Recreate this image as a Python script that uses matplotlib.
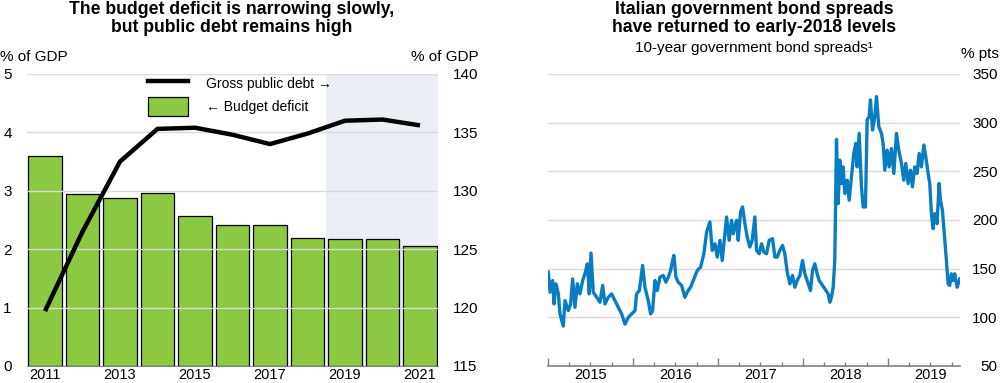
import matplotlib
matplotlib.use("Agg")
import matplotlib.pyplot as plt
from matplotlib.lines import Line2D
from matplotlib.patches import Patch
from matplotlib.ticker import FixedLocator, NullFormatter
import matplotlib.transforms as mtransforms

plt.rcParams['font.family'] = ['Liberation Sans', 'DejaVu Sans']

# ---------------- data: left panel ----------------
years = [2011, 2012, 2013, 2014, 2015, 2016, 2017, 2018, 2019, 2020, 2021]
budget_deficit = [3.6, 2.95, 2.87, 2.96, 2.56, 2.41, 2.42, 2.19, 2.17, 2.17, 2.05]
gross_debt = [119.7, 126.5, 132.5, 135.3, 135.4, 134.8, 134.0, 134.9, 136.0, 136.1, 135.6]
left_xticks = [2011, 2013, 2015, 2017, 2019, 2021]
projection_start = 2018.5

# ---------------- data: right panel ----------------
spread_dates = [
    2015.004, 2015.024, 2015.055, 2015.071, 2015.094, 2015.122, 2015.141, 2015.180, 2015.200, 2015.239,
    2015.267, 2015.290, 2015.318, 2015.345, 2015.376, 2015.408, 2015.435, 2015.463, 2015.486, 2015.506,
    2015.533, 2015.573, 2015.612, 2015.643, 2015.671, 2015.710, 2015.749, 2015.788, 2015.827, 2015.867,
    2015.906, 2015.945, 2015.984, 2016.024, 2016.043, 2016.075, 2016.114, 2016.141, 2016.180, 2016.208,
    2016.231, 2016.259, 2016.286, 2016.318, 2016.357, 2016.388, 2016.416, 2016.443, 2016.467, 2016.482,
    2016.506, 2016.533, 2016.573, 2016.612, 2016.639, 2016.678, 2016.718, 2016.757, 2016.796, 2016.835,
    2016.867, 2016.906, 2016.933, 2016.965, 2016.992, 2017.024, 2017.051, 2017.082, 2017.102, 2017.133,
    2017.161, 2017.180, 2017.220, 2017.239, 2017.267, 2017.290, 2017.318, 2017.345, 2017.376, 2017.404,
    2017.435, 2017.455, 2017.486, 2017.514, 2017.541, 2017.573, 2017.604, 2017.643, 2017.671, 2017.698,
    2017.729, 2017.761, 2017.788, 2017.816, 2017.847, 2017.878, 2017.906, 2017.933, 2017.965, 2017.996,
    2018.024, 2018.051, 2018.090, 2018.114, 2018.141, 2018.169, 2018.192, 2018.220, 2018.259, 2018.298,
    2018.318, 2018.337, 2018.357, 2018.376, 2018.396, 2018.416, 2018.435, 2018.455, 2018.475, 2018.494,
    2018.522, 2018.545, 2018.573, 2018.600, 2018.624, 2018.639, 2018.663, 2018.690, 2018.710, 2018.737,
    2018.757, 2018.780, 2018.796, 2018.820, 2018.847, 2018.867, 2018.894, 2018.925, 2018.945, 2018.965,
    2018.992, 2019.016, 2019.043, 2019.071, 2019.102, 2019.129, 2019.161, 2019.188, 2019.212, 2019.239,
    2019.267, 2019.290, 2019.318, 2019.345, 2019.369, 2019.396, 2019.424, 2019.447, 2019.475, 2019.494,
    2019.514, 2019.533, 2019.553, 2019.580, 2019.604, 2019.620, 2019.643, 2019.671, 2019.690, 2019.710,
    2019.729, 2019.749, 2019.769, 2019.788, 2019.816, 2019.847,
]
spread_values = [
    146.4, 125.8, 137.8, 113.8, 134.4, 124.1, 103.5, 91.0, 117.2, 106.9,
    113.8, 139.5, 110.3, 134.4, 124.1, 137.8, 144.7, 155.0, 124.1, 166.0,
    125.8, 120.6, 115.5, 132.7, 113.8, 120.6, 124.1, 117.2, 110.3, 103.5,
    93.0, 100.0, 103.5, 106.9, 124.1, 127.5, 153.3, 131.0, 117.2, 103.5,
    106.9, 137.8, 127.5, 141.3, 143.0, 136.1, 141.3, 148.1, 158.4, 163.6,
    141.3, 136.1, 132.7, 120.6, 125.8, 130.9, 139.5, 148.1, 151.6, 165.3,
    187.6, 198.0, 168.7, 175.6, 161.9, 179.1, 158.4, 185.9, 203.1, 179.1,
    199.7, 185.9, 199.7, 179.1, 208.3, 213.4, 196.2, 182.5, 172.2, 179.1,
    203.1, 168.7, 165.3, 175.6, 167.0, 165.3, 179.1, 180.8, 161.9, 161.9,
    168.7, 173.9, 165.3, 146.4, 134.4, 143.0, 130.9, 137.8, 143.0, 158.4,
    144.7, 137.8, 127.5, 148.1, 155.0, 144.7, 137.8, 134.4, 129.2, 124.1,
    115.5, 120.6, 130.9, 158.4, 282.8, 216.8, 261.5, 237.5, 254.6, 227.2,
    240.9, 220.3, 244.3, 268.4, 278.7, 254.6, 289.0, 234.0, 213.4, 213.4,
    302.7, 306.2, 323.4, 292.4, 306.2, 326.8, 295.9, 289.0, 278.7, 251.2,
    271.8, 254.6, 273.5, 247.8, 289.0, 271.8, 258.1, 240.9, 258.1, 237.5,
    251.2, 234.0, 254.6, 247.8, 268.4, 254.6, 277.0, 265.0, 247.8, 237.5,
    206.5, 191.1, 206.5, 196.2, 237.5, 220.3, 210.0, 179.1, 158.4, 134.4,
    132.7, 144.7, 137.8, 144.7, 130.9, 139.5,
]
right_year_labels = [2015, 2016, 2017, 2018, 2019]

# ---------------- styling ----------------
GREEN = '#8CC841'
BLUE = '#0A7CC1'
GRID = '#D9D9D9'
SHADE = '#ECEEF6'
SPINE = '#808080'
FS = 11
XFS = 10.5

fig = plt.figure(figsize=(10, 3.83), dpi=100)

# ================= LEFT PANEL =================
axL = fig.add_axes([0.027, 0.0444, 0.411, 0.7624])
axL.set_xlim(2010.52, 2021.48)
axL.set_ylim(0, 5)
axL.axvspan(projection_start, 2021.48, color=SHADE, zorder=0, lw=0)
axL.bar(years, budget_deficit, width=0.9, color=GREEN, edgecolor='black',
        linewidth=0.9, zorder=2)
axL.set_yticks([0, 1, 2, 3, 4, 5])
for v in [1, 2, 3, 4, 5]:
    axL.axhline(v, color=GRID, lw=1, zorder=3)
axL.set_xticks(left_xticks)
axL.set_xticklabels([str(y) for y in left_xticks])
axL.tick_params(axis='y', length=0, labelsize=FS, pad=11)
axL.tick_params(axis='x', length=0, labelsize=XFS, pad=1.5)
for s in ['top', 'right', 'left']:
    axL.spines[s].set_visible(False)
axL.spines['bottom'].set_color(SPINE)
axL.spines['bottom'].set_zorder(5)
axL.patch.set_visible(False)

axL2 = axL.twinx()
axL2.set_ylim(115, 140)
axL2.plot(years, gross_debt, color='black', lw=3.2, zorder=4, solid_capstyle='butt')
axL2.set_yticks([115, 120, 125, 130, 135, 140])
axL2.tick_params(axis='y', length=0, labelsize=FS, pad=11)
for s in ['top', 'right', 'left', 'bottom']:
    axL2.spines[s].set_visible(False)

handles = [Line2D([0], [0], color='black', lw=3.2),
           Patch(facecolor=GREEN, edgecolor='black', linewidth=0.9)]
leg = axL2.legend(handles, ['Gross public debt \u2192', '\u2190 Budget deficit'],
                  loc='upper left', bbox_to_anchor=(0.28, 1.02), frameon=False,
                  fontsize=10, handlelength=2.9, handleheight=1.8,
                  handletextpad=1.3, labelspacing=0.25, borderaxespad=0)

fig.text(0.232, 0.998, 'The budget deficit is narrowing slowly,\nbut public debt remains high',
         ha='center', va='top', fontsize=12.7, fontweight='bold', linespacing=1.08)
fig.text(0.0, 1 - 57 / 383, '% of GDP', ha='left', va='center', fontsize=FS)
fig.text(0.479, 1 - 57 / 383, '% of GDP', ha='right', va='center', fontsize=FS)

# ================= RIGHT PANEL =================
axR = fig.add_axes([0.548, 0.0444, 0.412, 0.7624])
axR.set_xlim(2015.0, 2019.85)
axR.set_ylim(50, 350)
for v in [100, 150, 200, 250, 300, 350]:
    axR.axhline(v, color=GRID, lw=1, zorder=1)
axR.plot(spread_dates, spread_values, color=BLUE, lw=2.4, zorder=3,
         solid_joinstyle='round')
axR.yaxis.tick_right()
axR.set_yticks([50, 100, 150, 200, 250, 300, 350])
axR.tick_params(axis='y', length=0, labelsize=FS, pad=27)
for lab in axR.get_yticklabels():
    lab.set_horizontalalignment('right')
axR.xaxis.set_major_locator(FixedLocator([2015, 2016, 2017, 2018, 2019]))
axR.xaxis.set_minor_locator(FixedLocator([y + q for y in range(2015, 2020)
                                          for q in (0.25, 0.5, 0.75)
                                          if y + q < 2019.85]))
axR.xaxis.set_major_formatter(NullFormatter())
axR.tick_params(axis='x', which='major', direction='in', length=6, color=SPINE, width=1)
axR.tick_params(axis='x', which='minor', direction='in', length=3, color=SPINE, width=1)
trans = mtransforms.blended_transform_factory(axR.transData, axR.transAxes)
for y in right_year_labels:
    axR.text(y + 0.5, -0.006, str(y), transform=trans, ha='center', va='top', fontsize=XFS)
for s in ['top', 'right', 'left']:
    axR.spines[s].set_visible(False)
axR.spines['bottom'].set_color(SPINE)
axR.spines['bottom'].set_linewidth(1.2)

fig.text(0.754, 0.998, 'Italian government bond spreads\nhave returned to early-2018 levels',
         ha='center', va='top', fontsize=12.7, fontweight='bold', linespacing=1.08)
fig.text(0.754, 1 - 48 / 383, '10-year government bond spreads\u00b9',
         ha='center', va='center', fontsize=FS)
fig.text(0.999, 1 - 54 / 383, '% pts', ha='right', va='center', fontsize=FS)

fig.savefig('out.png', dpi=100)
